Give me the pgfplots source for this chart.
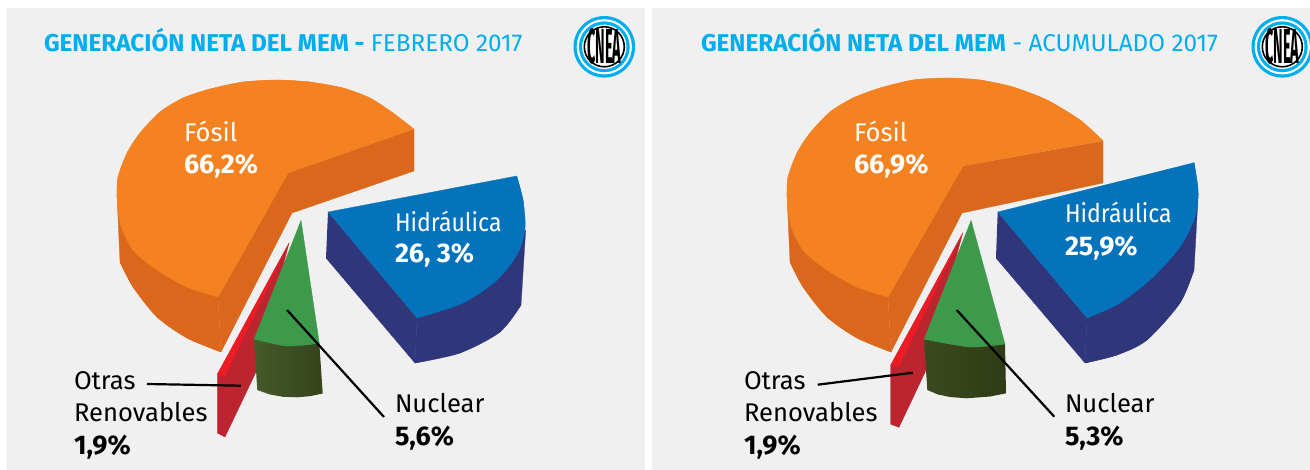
\documentclass[border=0pt]{standalone}
\usepackage{pgfplots}
\pgfplotsset{compat=1.18}
\usepackage{fontspec}
\setmainfont{Fira Sans}
\definecolor{bg}{HTML}{F0F0F0}
\definecolor{cy}{HTML}{00AEEF}
\definecolor{org}{HTML}{F58220}
\definecolor{orgd}{HTML}{DB671D}
\definecolor{blu}{HTML}{0573BC}
\definecolor{blud}{HTML}{2F367A}
\definecolor{grn}{HTML}{3C9A4A}
\definecolor{redt}{HTML}{ED1C24}
\definecolor{redd}{HTML}{BC2530}
\definecolor{gl}{HTML}{455A2A}
\definecolor{gd}{HTML}{36431C}
\definecolor{gl2}{HTML}{3B4A20}
\definecolor{gd2}{HTML}{2E3B14}
\tikzset{
  sh/.style={fill=#1,draw=#1,line width=0.3pt,mark=none},
  arc/.style={fill=#1,draw=#1,line width=0.3pt,mark=none,smooth},
  lead/.style={draw=black,line width=2.2pt,mark=none},
  lab/.style={anchor=base west,inner sep=0pt,outer sep=0pt,font=\fontsize{25.6}{26}\selectfont,text=#1},
  ttl/.style={anchor=base west,inner sep=0pt,outer sep=0pt,font=\fontsize{24.3}{25}\selectfont,text=cy},
  pct/.style={anchor=base west,inner sep=0pt,outer sep=0pt,font=\fontsize{27}{27}\selectfont\bfseries,text=#1},
}
\newcommand{\logo}[2]{%
  \draw[fill=cy,draw=none] (axis cs:#1,#2) circle[radius=30.8pt];
  \draw[fill=white,draw=none] (axis cs:#1,#2) circle[radius=27.6pt];
  \draw[fill=cy,draw=none] (axis cs:#1,#2) circle[radius=25.4pt];
  \draw[fill=white,draw=none] (axis cs:#1,#2) circle[radius=22.2pt];
  \draw[draw=black,line width=1.6pt] (axis cs:#1,#2) circle[radius=20pt];
  \node[inner sep=0pt,text=black] at (axis cs:#1,#2) {\scalebox{0.6}[2.05]{\fontsize{24}{24}\selectfont\bfseries CNEA}};
}
\begin{document}
\begin{tikzpicture}
\begin{axis}[
  scale only axis,width=1310pt,height=470pt,
  xmin=0,xmax=1310,ymin=0,ymax=470,y dir=reverse,
  axis lines=none,clip=true,no markers]
% page and panels
\addplot[fill=white,draw=none] coordinates {(0,0)(1310,0)(1310,470)(0,470)};
\addplot[fill=bg,draw=none] coordinates {(6,8)(645,8)(645,470)(6,470)};
\addplot[fill=bg,draw=none] coordinates {(652,8)(1310,8)(1310,470)(652,470)};
%%% LEFT PANEL
% fossil side
\addplot[arc=orgd] coordinates {(120,262)(133,287)(157,317)(187,338)(221,352)};
\addplot[sh=orgd] coordinates {(117,195)(120,262)(133,287)(157,317)(187,338)(221,352)(218,297)};
\addplot[sh=orgd] coordinates {(218,297)(288,173)(414,129)(414,171)(292,213)(221,352)};
% fossil top
\addplot[arc=org] coordinates {(414,129.3)(393,113)(370,98)(343,88)(310,82)(277,80)(243,82)(210,89)(183,98)(160,112)(140,133)(127,153)(118,177)(117,195)};
\addplot[arc=org] coordinates {(117,195)(120,223)(133,250)(157,270)(187,287)(218,297)};
\addplot[sh=org] coordinates {(414,129.3)(393,113)(370,98)(343,88)(310,82)(277,80)(243,82)(210,89)(183,98)(160,112)(140,133)(127,153)(118,177)(117,195)(120,223)(133,250)(157,270)(187,287)(218,297)(288,173)};
% hydro
\addplot[arc=blud] coordinates {(521,305)(500,332)(460,353)(415,363)};
\addplot[sh=blud] coordinates {(525.7,230)(521,305)(500,332)(460,353)(415,363)(417,318)};
\addplot[sh=blud] coordinates {(328,212)(417,318)(415,363)(326,258)};
\addplot[arc=blu] coordinates {(516.7,176)(523,200)(525,228)(518,253)(497,280)(463,303)(417,318)};
\addplot[sh=blu] coordinates {(328,212)(516.7,176)(523,200)(525,228)(518,253)(497,280)(463,303)(417,318)};
% other renewables
\addplot[sh=redd] coordinates {(289,243)(256,372)(225,437)(217.3,433)(217.3,374.3)};
\addplot[sh=redt] coordinates {(289,243)(217.3,374.3)(225,376)};
% nuclear
\addplot[draw=none,left color=gl,right color=gd,mark=none] coordinates {(254,339)(319.3,343)(322.7,393.5)(310,396.2)(296.7,397.3)(283,396.8)(270,394.5)(257.3,390)};
\addplot[arc=grn] coordinates {(319.3,343.3)(286.7,346)(254,339)};
\addplot[sh=grn] coordinates {(301,220)(319.3,343.3)(286.7,346)(254,339)};
% leaders
\addplot[lead] coordinates {(147,384)(241,385.7)};
\addplot[lead] coordinates {(287,310)(384,417)};
%%% RIGHT PANEL
\addplot[arc=orgd] coordinates {(790,262)(803,287)(827,317)(857,338)(891,352)};
\addplot[sh=orgd] coordinates {(787,195)(790,262)(803,287)(827,317)(857,338)(891,352)(888,297)};
\addplot[sh=orgd] coordinates {(888,297)(963,166)(1103,141)(1103,183)(962,213)(891,352)};
\addplot[arc=org] coordinates {(1103,140.7)(1080,120)(1047,100)(1013,87)(980,80)(947,78)(913,80)(880,88)(853,98)(830,112)(810,133)(797,153)(788,177)(787,195)};
\addplot[arc=org] coordinates {(787,195)(790,223)(803,250)(827,270)(857,287)(888,297)};
\addplot[sh=org] coordinates {(1103,140.7)(1080,120)(1047,100)(1013,87)(980,80)(947,78)(913,80)(880,88)(853,98)(830,112)(810,133)(797,153)(788,177)(787,195)(790,223)(803,250)(827,270)(857,287)(888,297)(963,166)};
\addplot[arc=blud] coordinates {(1194,270)(1180,303)(1147,340)(1117,355)(1085,363)};
\addplot[sh=blud] coordinates {(1198.3,193)(1194,270)(1180,303)(1147,340)(1117,355)(1085,363)(1087,318)};
\addplot[sh=blud] coordinates {(997.7,212)(1087,318)(1085,363)(996,258)};
\addplot[arc=blu] coordinates {(1194,162.7)(1198,190)(1195,217)(1180,247)(1153,277)(1120,303)(1087,318)};
\addplot[sh=blu] coordinates {(997.7,212)(1194,162.7)(1198,190)(1195,217)(1180,247)(1153,277)(1120,303)(1087,318)};
\addplot[sh=redd] coordinates {(962.7,233)(925.3,371.7)(899,427.3)(890.7,424.3)(890.7,365)};
\addplot[sh=redt] coordinates {(962.7,233)(890.7,365)(899,366.7)};
\addplot[draw=none,left color=gl2,right color=gd2,mark=none] coordinates {(924,339)(1005,344)(1006,393.3)(990,396.5)(966.7,398.3)(950,397)(938,394.5)(927.3,390)};
\addplot[arc=grn] coordinates {(1005,344)(970,347)(924,339)};
\addplot[sh=grn] coordinates {(971,220)(1005,344)(970,347)(924,339)};
\addplot[lead] coordinates {(817.7,384.7)(912.7,372.7)};
\addplot[lead] coordinates {(956.7,310)(1054.3,416.7)};
% logos
\logo{604.3}{46.8}
\logo{1282.3}{46.8}
% titles
\node[ttl] at (axis cs:44,52) {\textbf{GENERACIÓN NETA DEL MEM -} FEBRERO 2017};
\node[ttl] at (axis cs:701,52) {\textbf{GENERACIÓN NETA DEL MEM} - ACUMULADO 2017};
% labels left
\node[lab=white] at (axis cs:184,141.7) {Fósil};
\node[pct=white] at (axis cs:184,174) {66,2\%};
\node[lab=white] at (axis cs:395,231.7) {\scalebox{0.9}[1]{Hidráulica}};
\node[pct=white] at (axis cs:395,263) {26, 3\%};
\node[lab=black] at (axis cs:395,412.7) {Nuclear};
\node[pct=black] at (axis cs:395,445) {5,6\%};
\node[lab=black] at (axis cs:74,390) {Otras};
\node[lab=black] at (axis cs:74,421.7) {Renovables};
\node[pct=black] at (axis cs:74,454) {1,9\%};
% labels right
\node[lab=white] at (axis cs:854,141.7) {Fósil};
\node[pct=white] at (axis cs:854,174) {66,9\%};
\node[lab=white] at (axis cs:1065,223) {\scalebox{0.9}[1]{Hidráulica}};
\node[pct=white] at (axis cs:1065,255.7) {25,9\%};
\node[lab=black] at (axis cs:1065,412.7) {Nuclear};
\node[pct=black] at (axis cs:1065,445) {5,3\%};
\node[lab=black] at (axis cs:744,390) {Otras};
\node[lab=black] at (axis cs:744,421.7) {Renovables};
\node[pct=black] at (axis cs:744,454) {1,9\%};
\end{axis}
\end{tikzpicture}
\end{document}
